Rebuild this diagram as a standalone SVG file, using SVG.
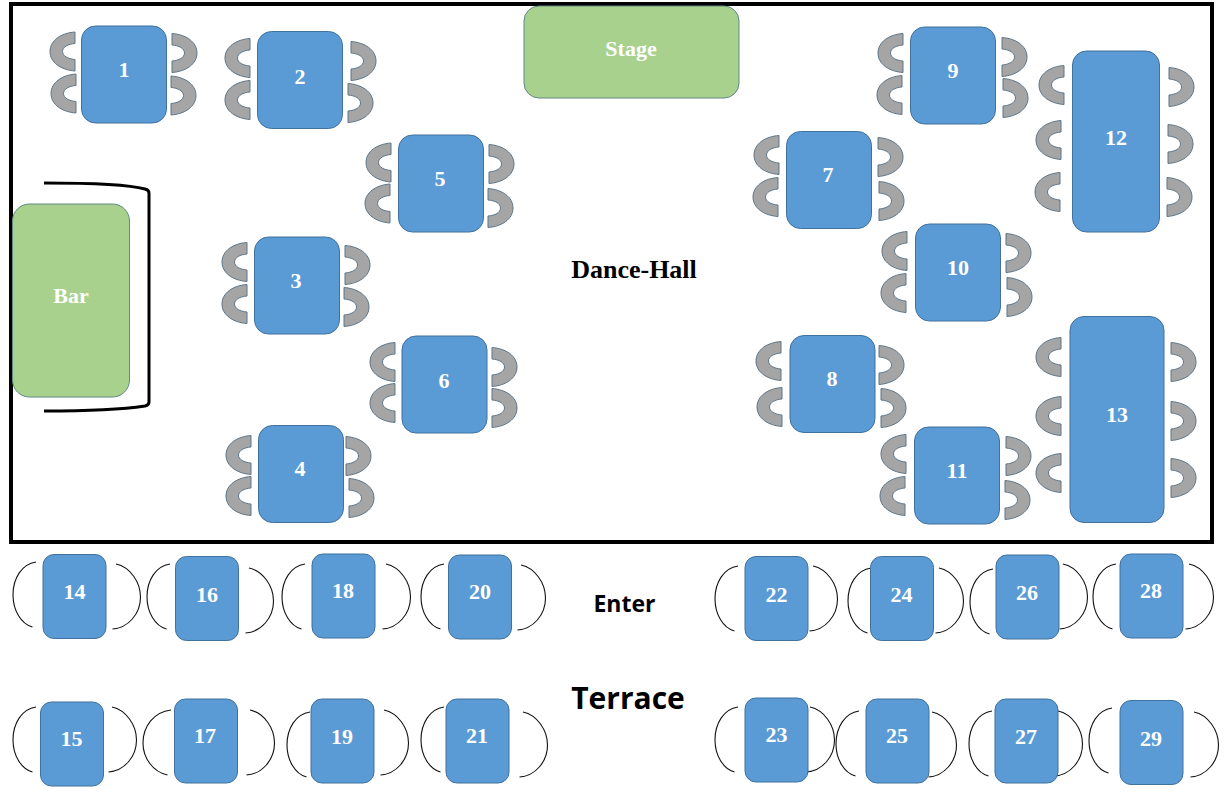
<svg xmlns="http://www.w3.org/2000/svg" width="1224" height="792" viewBox="0 0 1224 792">
<style>
.t{fill:#5B9BD5;stroke:#41719C;stroke-width:1}
.g{fill:#A9D18E;stroke:#5f8a80;stroke-width:1}
.c{fill:#A5A5A5;stroke:#5f7688;stroke-width:1}
.a{fill:none;stroke:#111;stroke-width:1.1}
text{font-family:"Liberation Serif",serif;font-weight:700;text-anchor:middle}
.n{fill:#fff;font-size:22px}
.s{font-family:"Open Sans","Liberation Sans",sans-serif}
</style>
<defs>
<path id="cl" class="c" d="M0,-19.500C-14,-18.500 -25,-11 -25,0C-25,11 -14,18.500 0,19.500V8C-7,7.500 -12.500,4.500 -12.500,0C-12.500,-4.500 -7,-7.500 0,-8Z"/>
<path id="cr" class="c" d="M0,-19.500C14,-18.500 25,-11 25,0C25,11 14,18.500 0,19.500V8C7,7.500 12.500,4.500 12.500,0C12.500,-4.500 7,-7.500 0,-8Z"/>
<path id="al" class="a" d="M0,0C-14,2 -23,16 -23,33C-23,48 -15,62 -3.500,65"/>
<path id="ar" class="a" d="M0,0C14,3 24.500,18 24.500,33C24.500,50 12,64 -3.500,65"/>
<path id="alw" class="a" d="M0,0C-17,2 -28,16 -28,33C-28,48 -18,62 -3.500,65"/>
<rect id="sq" class="t" width="85" height="97" rx="14"/>
<rect id="tt" class="t" width="63" height="84" rx="11"/>
</defs>
<rect width="1224" height="792" fill="#fff"/>
<rect id="frame" x="11" y="4" width="1201" height="538" fill="#fff" stroke="#000" stroke-width="4"/>
<g id="stage"><rect class="g" x="524" y="6" width="215" height="92" rx="15"/><text class="n" x="631" y="56" font-size="22">Stage</text></g>
<g id="bar"><path d="M44,183C90,183 130,185 145,189Q149,190 149,193V402Q149,405 145,406C125,409 85,411 44,411" fill="none" stroke="#000" stroke-width="3"/><rect class="g" x="12.500" y="204" width="117" height="193" rx="17"/><text class="n" x="71" y="303">Bar</text></g>
<g id="table-1"><use href="#cl" x="75" y="51.500"/><use href="#cl" x="76" y="93.500"/><use href="#cr" x="172" y="53"/><use href="#cr" x="171" y="95.500"/><use href="#sq" x="81.500" y="26"/><text class="n" x="124" y="77">1</text></g>
<g id="table-2"><use href="#cl" x="250" y="58"/><use href="#cl" x="250" y="100"/><use href="#cr" x="351" y="61"/><use href="#cr" x="348" y="103"/><use href="#sq" x="257.500" y="31.500"/><text class="n" x="300" y="84">2</text></g>
<g id="table-3"><use href="#cl" x="247" y="262"/><use href="#cl" x="247" y="304"/><use href="#cr" x="345" y="265"/><use href="#cr" x="344" y="307"/><use href="#sq" x="254.500" y="237"/><text class="n" x="296" y="288">3</text></g>
<g id="table-4"><use href="#cl" x="251" y="455"/><use href="#cl" x="251" y="496"/><use href="#cr" x="346" y="456"/><use href="#cr" x="349" y="498"/><use href="#sq" x="258.500" y="425.500"/><text class="n" x="300" y="476">4</text></g>
<g id="table-5"><use href="#cl" x="391" y="162.500"/><use href="#cl" x="390" y="203.500"/><use href="#cr" x="489" y="164"/><use href="#cr" x="488" y="208"/><use href="#sq" x="398.500" y="135"/><text class="n" x="440" y="186">5</text></g>
<g id="table-6"><use href="#cl" x="395" y="362"/><use href="#cl" x="395" y="403"/><use href="#cr" x="492" y="367"/><use href="#cr" x="492" y="408"/><use href="#sq" x="402" y="336"/><text class="n" x="444" y="388">6</text></g>
<g id="table-7"><use href="#cl" x="779" y="155"/><use href="#cl" x="778" y="197"/><use href="#cr" x="878" y="157"/><use href="#cr" x="879" y="201"/><use href="#sq" x="786.500" y="131.500"/><text class="n" x="828" y="182">7</text></g>
<g id="table-8"><use href="#cl" x="781" y="361"/><use href="#cl" x="782" y="407"/><use href="#cr" x="879" y="365"/><use href="#cr" x="881" y="408"/><use href="#sq" x="790" y="335.500"/><text class="n" x="832" y="386">8</text></g>
<g id="table-9"><use href="#cl" x="903" y="53"/><use href="#cl" x="902" y="95"/><use href="#cr" x="1002" y="57"/><use href="#cr" x="1003" y="98"/><use href="#sq" x="910.500" y="27"/><text class="n" x="953" y="78">9</text></g>
<g id="table-10"><use href="#cl" x="907" y="251"/><use href="#cl" x="906" y="293"/><use href="#cr" x="1006" y="253"/><use href="#cr" x="1007" y="297"/><use href="#sq" x="915.500" y="224"/><text class="n" x="958" y="275">10</text></g>
<g id="table-11"><use href="#cl" x="906" y="454"/><use href="#cl" x="905" y="496"/><use href="#cr" x="1006" y="456"/><use href="#cr" x="1005" y="500"/><use href="#sq" x="914.500" y="427"/><text class="n" x="957" y="478">11</text></g>
<g id="table-12"><use href="#cl" x="1064" y="85"/><use href="#cl" x="1061" y="140"/><use href="#cl" x="1060" y="192"/><use href="#cr" x="1169" y="87"/><use href="#cr" x="1168" y="144"/><use href="#cr" x="1167" y="197"/><rect class="t" x="1072.500" y="51" width="87" height="181" rx="14"/><text class="n" x="1116" y="145">12</text></g>
<g id="table-13"><use href="#cl" x="1061" y="357"/><use href="#cl" x="1061" y="416"/><use href="#cl" x="1061" y="473"/><use href="#cr" x="1171" y="362"/><use href="#cr" x="1171" y="421"/><use href="#cr" x="1171" y="478"/><rect class="t" x="1070" y="316.500" width="94" height="206" rx="14"/><text class="n" x="1117" y="422">13</text></g>
<text x="634" y="278" font-size="26">Dance-Hall</text>
<g id="table-14"><use href="#al" x="36" y="562"/><use href="#ar" x="116" y="564"/><use href="#tt" x="43" y="554.500"/><text class="n" x="74.500" y="599">14</text></g>
<g id="table-16"><use href="#al" x="170" y="564"/><use href="#ar" x="249" y="568"/><use href="#tt" x="175.500" y="556.500"/><text class="n" x="207" y="602">16</text></g>
<g id="table-18"><use href="#al" x="305" y="564"/><use href="#ar" x="386" y="564"/><use href="#tt" x="312" y="554"/><text class="n" x="343" y="598">18</text></g>
<g id="table-20"><use href="#al" x="444" y="564"/><use href="#ar" x="521" y="565"/><use href="#tt" x="448.500" y="555"/><text class="n" x="480" y="599">20</text></g>
<g id="table-15"><use href="#al" x="36" y="707"/><use href="#ar" x="112" y="707"/><use href="#tt" x="40.500" y="702"/><text class="n" x="71.500" y="746">15</text></g>
<g id="table-17"><use href="#alw" x="171" y="710"/><use href="#ar" x="250" y="710"/><use href="#tt" x="174.500" y="699"/><text class="n" x="205" y="743">17</text></g>
<g id="table-19"><use href="#al" x="310" y="712"/><use href="#ar" x="384" y="710"/><use href="#tt" x="311" y="699"/><text class="n" x="342" y="744">19</text></g>
<g id="table-21"><use href="#al" x="444" y="707"/><use href="#ar" x="523" y="712"/><use href="#tt" x="446" y="699"/><text class="n" x="477" y="743">21</text></g>
<g id="table-22"><use href="#al" x="738" y="566"/><use href="#ar" x="813" y="566"/><use href="#tt" x="745" y="556.500"/><text class="n" x="776.500" y="602">22</text></g>
<g id="table-24"><use href="#al" x="871" y="568"/><use href="#ar" x="939" y="568"/><use href="#tt" x="870.500" y="556.500"/><text class="n" x="901.500" y="602">24</text></g>
<g id="table-26"><use href="#al" x="993" y="569"/><use href="#ar" x="1063" y="564"/><use href="#tt" x="996" y="555"/><text class="n" x="1027" y="600">26</text></g>
<g id="table-28"><use href="#al" x="1116" y="564"/><use href="#ar" x="1189" y="564"/><use href="#tt" x="1120" y="554"/><text class="n" x="1151" y="598">28</text></g>
<g id="table-23"><use href="#al" x="738" y="707"/><use href="#ar" x="810" y="707"/><use href="#tt" x="745" y="698"/><text class="n" x="776.500" y="742">23</text></g>
<g id="table-25"><use href="#al" x="859" y="711"/><use href="#ar" x="932" y="712"/><use href="#tt" x="866" y="699"/><text class="n" x="897" y="743">25</text></g>
<g id="table-27"><use href="#al" x="992" y="711"/><use href="#ar" x="1058" y="711"/><use href="#tt" x="995" y="699"/><text class="n" x="1026" y="744">27</text></g>
<g id="table-29"><use href="#al" x="1112" y="708"/><use href="#ar" x="1194" y="712"/><use href="#tt" x="1120" y="700.500"/><text class="n" x="1151" y="746">29</text></g>
<text class="s" x="624.500" y="612" font-size="23">Enter</text>
<text class="s" x="628" y="709" font-size="30">Terrace</text>
<g id="connectors"/>
</svg>
